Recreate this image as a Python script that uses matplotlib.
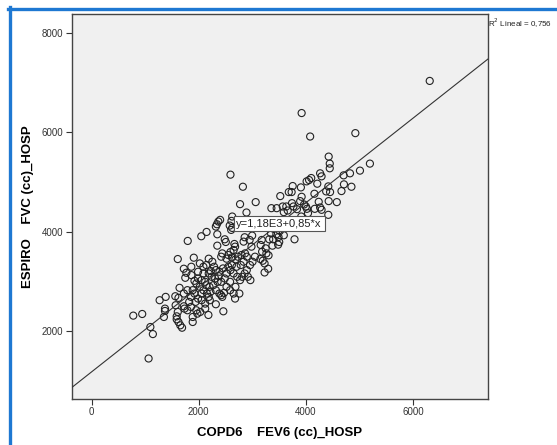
import numpy as np
import matplotlib
matplotlib.use("Agg")
import matplotlib.pyplot as plt
from matplotlib.lines import Line2D

plt.rcParams['font.family'] = ['Liberation Sans', 'DejaVu Sans']

# FEV6 (cc)
fev6 = [
    6313, 3921, 4080, 4924, 2592, 2824, 4426, 4446, 4446, 5196,
    5010, 4824, 4705, 4266, 4293, 4100, 4060, 4014, 4213, 4160,
    4711, 4851, 4665, 4419, 4452, 4379, 3754, 3907, 3681, 3734,
    3522, 3921, 4578, 4426, 4240, 3894, 3967, 4000, 4020, 3741,
    3768, 3834, 3635, 3568, 3455, 3356, 4166, 4266, 4293, 3588,
    3661, 4419, 4040, 3914, 3063, 2771, 2891, 2625, 2611, 2399,
    2366, 2339, 2319, 2578, 2605, 2625, 2857, 2997, 2837, 2950,
    3176, 3316, 3389, 3489, 3588, 3349, 3449, 3402, 3515, 3788,
    3156, 3249, 3183, 3376, 3502, 3482, 3263, 3303, 2984, 2146,
    2047, 2346, 1794, 2485, 2505, 2346, 2665, 2678, 2651, 2592,
    2552, 2618, 2685, 2731, 2798, 2864, 2897, 2439, 2419, 2518,
    3150, 3196, 3229, 3296, 3229, 3050, 3004, 2957, 2897, 2857,
    2811, 2771, 2718, 2651, 2592, 2552, 2964, 2917,
    2186, 1907, 2020, 1861, 1721, 1768, 1748, 1861, 2087, 2140,
    2226, 2286, 2319, 2386, 2452, 2518, 2485, 2419, 2186, 2239,
    2306, 2352, 2273, 2200, 2120, 2053, 1987, 1954, 2020, 2087,
    2153, 2219, 2319, 2386, 2518, 2585, 2651, 2685, 2472, 2439,
    1608, 1641, 1562, 1621, 1721, 1788, 1854, 1920, 1940, 1987,
    2053, 2120, 2206, 2319, 2419, 1269, 1382, 1369, 1369, 1349,
    1568, 1608, 1588, 1721, 1734, 1588, 1621, 1655, 1688, 1788,
    1854, 1954, 2027, 2120, 1887, 1887, 1974, 2180, 2459, 777,
    944, 1096, 1143, 1063, 2186, 2053, 1887, 1821, 2758,
    2253, 2618, 2705, 2784, 2837, 2372, 2087, 1987, 1920, 2140,
    2585, 2678,
]

# FVC (cc)
fvc = [
    7030, 6384, 5912, 5980, 5145, 4902, 5508, 5367, 5273, 5367,
    5226, 5172, 5131, 5172, 5111, 5077, 5037, 5010, 4963, 4761,
    4950, 4902, 4815, 4909, 4795, 4808, 4916, 4889, 4795, 4795,
    4714, 4700, 4593, 4613, 4599, 4613, 4545, 4505, 4458, 4572,
    4505, 4451, 4505, 4505, 4471, 4471, 4458, 4485, 4438, 4391,
    4424, 4337, 4370, 4303, 4593, 4552, 4384, 4303, 4215, 4236,
    4202, 4148, 4101, 4121, 4034, 4074, 3886, 3919, 3798, 3832,
    3832, 3845, 3845, 3892, 3926, 3966, 3946, 4054, 4013, 3845,
    3731, 3663, 3596, 3717, 3791, 3737, 3562, 3522, 3697, 3993,
    3906, 3946, 3812, 3845, 3791, 3717, 3751, 3697, 3630, 3589,
    3529, 3481, 3441, 3495, 3529, 3562, 3495, 3562, 3495, 3455,
    3448, 3414, 3360, 3253, 3178, 3495, 3394, 3327, 3226, 3158,
    3091, 3024, 3091, 3158, 3226, 3293, 3024, 3091,
    3455, 3475, 3360, 3293, 3253, 3172, 3071, 3125, 3293, 3327,
    3205, 3293, 3226, 3192, 3259, 3158, 3057, 2990, 3158, 3091,
    3057, 2990, 2923, 2889, 2990, 3024, 3057, 2956, 2889, 2822,
    2754, 2788, 2822, 2754, 2889, 2822, 2754, 2889, 2768, 2687,
    3448, 2869, 2700, 2667, 2754, 2822, 2687, 2754, 2586, 2653,
    2620, 2552, 2620, 2539, 2721, 2620, 2687, 2451, 2404, 2283,
    2519, 2384, 2296, 2498, 2451, 2236, 2182, 2115, 2067, 2418,
    2485, 2418, 2384, 2451, 2283, 2182, 2350, 2323, 2397, 2310,
    2343, 2081, 1939, 1448, 2687, 2754, 2822, 2586, 2754,
    3394, 3327, 3293, 3327, 3394, 3104, 3158, 3192, 3010, 2923,
    2990, 2653,
]

intercept = 1180
slope = 0.85
eq_label = "y=1,18E3+0,85*x"
r2_label = "R$^2$ Lineal = 0,756"

x_ticks = [0, 2000, 4000, 6000]
y_ticks = [2000, 4000, 6000, 8000]
xlim = (-370, 7400)
ylim = (630, 8380)

fig = plt.figure(figsize=(5.57, 4.45), dpi=100)
ax = fig.add_axes([0.129, 0.103, 0.747, 0.866])
ax.set_facecolor('#f0f0f0')

ax.scatter(fev6, fvc, s=26, facecolors='none', edgecolors='#222222',
           linewidths=0.8, zorder=3)

xs = np.array(xlim)
ax.plot(xs, intercept + slope * xs, color='#333333', lw=0.8, zorder=4)

ax.text(3500, 4160, eq_label, fontsize=8, ha='center', va='center',
        color='#222222', zorder=5,
        bbox=dict(boxstyle='square,pad=0.25', fc='white', ec='#555555', lw=0.8))

ax.set_xlim(*xlim)
ax.set_ylim(*ylim)
ax.set_xticks(x_ticks)
ax.set_yticks(y_ticks)
ax.tick_params(labelsize=7, colors='#333333', length=4, width=0.8, pad=2)
for sp in ax.spines.values():
    sp.set_color('#444444')
    sp.set_linewidth(1.0)

ax.set_xlabel("COPD6    FEV6 (cc)_HOSP", fontsize=9.5, fontweight='bold', labelpad=7)
ax.set_ylabel("ESPIRO    FVC (cc)_HOSP", fontsize=9.5, fontweight='bold', labelpad=6)

fig.text(488 / 557, 1 - 23 / 445, r2_label, fontsize=5.8, ha='left', va='center',
         color='#222222')

# blue frame around the panel
blue = '#1e78d2'
fig.add_artist(Line2D([9.5 / 557, 9.5 / 557], [0, 1 - 7 / 445], color=blue,
                      lw=2.4, transform=fig.transFigure))
fig.add_artist(Line2D([8 / 557, 1], [1 - 8.5 / 445, 1 - 8.5 / 445], color=blue,
                      lw=2.4, transform=fig.transFigure))

fig.savefig("out.png", dpi=100)
